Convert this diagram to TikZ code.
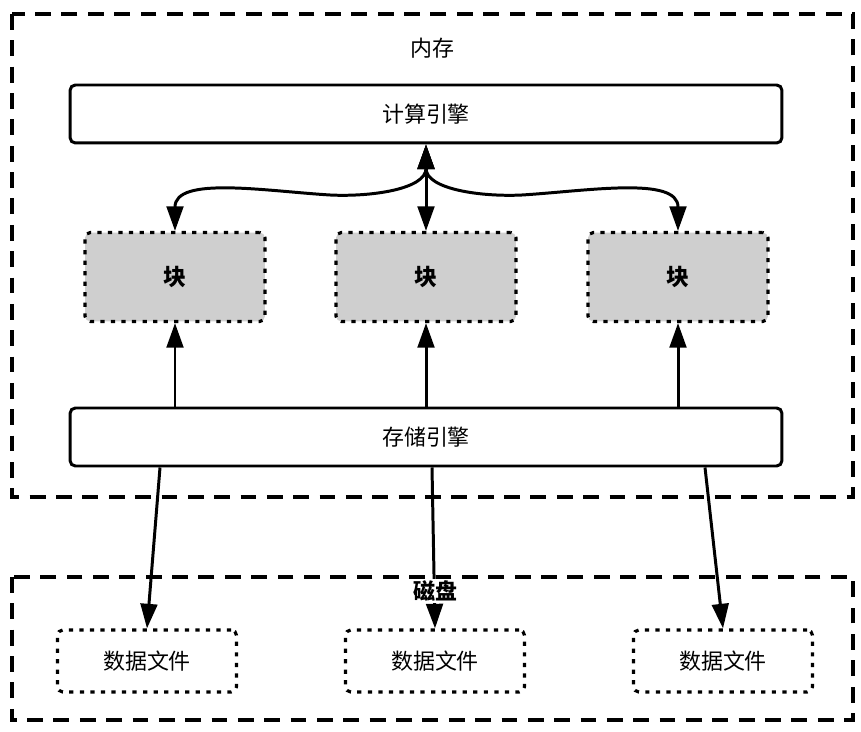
\documentclass[tikz,border=0pt]{standalone}
\usepackage{fontspec}
\setmainfont{Noto Sans CJK SC}
\usepackage{tikz}
\usetikzlibrary{positioning,arrows.meta,calc}

\begin{document}
\begin{tikzpicture}[x=0.02cm,y=-0.02cm,
  region/.style={draw=black,line width=1.8pt,dash pattern=on 9pt off 6pt},
  engine/.style={draw=black,line width=1.7pt,rounded corners=3pt,fill=white,
    minimum width=14.24cm,minimum height=1.16cm,font=\fontsize{12.5}{15}\selectfont},
  chunk/.style={draw=black,fill=black!19,line width=1.8pt,dash pattern=on 2.4pt off 3.6pt,
    rounded corners=3pt,minimum width=3.6cm,minimum height=1.78cm,
    font=\fontsize{13}{15}\selectfont\bfseries},
  datafile/.style={draw=black,fill=white,line width=1.8pt,dash pattern=on 2.4pt off 3.6pt,
    rounded corners=3pt,minimum width=3.58cm,minimum height=1.24cm,
    font=\fontsize{12.5}{15}\selectfont},
  link/.style={-{Triangle[length=14pt,width=9.5pt]},line width=1.7pt},
  duplex/.style={{Triangle[length=14pt,width=9.5pt]}-{Triangle[length=14pt,width=9.5pt]},line width=1.7pt},
  title/.style={font=\fontsize{12.5}{15}\selectfont}]
\useasboundingbox (0,0) rectangle (861,732);
\draw[region] (12,14) rectangle (853,497);
\draw[region] (12,577) rectangle (853,720);
\node[title] (memlbl) at (432,48) {内存};
\node[engine] (comp) at (426,114) {计算引擎};
\node[chunk] (blk1) at (175,277) {块};
\node[chunk] (blk2) at (426,277) {块};
\node[chunk] (blk3) at (678,277) {块};
\node[engine] (store) at (426,437) {存储引擎};
\node[datafile] (file1) at (147,661) {数据文件};
\node[datafile] (file2) at (435,661) {数据文件};
\node[datafile] (file3) at (723,661) {数据文件};
% compute engine <-> blocks
\draw[duplex] (comp.south) .. controls +(0,45) and +(40,2) .. (330,195)
  .. controls (265,191) and +(0,-55) .. (blk1.north);
\draw[duplex] (comp.south) -- (blk2.north);
\draw[duplex] (comp.south) .. controls +(0,45) and +(-40,2) .. (522,195)
  .. controls (587,191) and +(0,-55) .. (blk3.north);
% storage engine -> blocks
\draw[link] (store.north -| blk1.south) -- (blk1.south);
\draw[link] (store.north -| blk2.south) -- (blk2.south);
\draw[link] (store.north -| blk3.south) -- (blk3.south);
% storage engine -> data files
\draw[link] ($(store.south -| file1.north)+(13,0)$) -- (file1.north);
\draw[link] ($(store.south -| file2.north)+(-3,0)$) -- (file2.north);
\draw[link] ($(store.south -| file3.north)+(-18,0)$) -- (file3.north);
\node[title,font=\fontsize{12.5}{15}\selectfont\bfseries,fill=white,inner sep=1pt] (disklbl) at (435,591) {磁盘};
\end{tikzpicture}
\end{document}
